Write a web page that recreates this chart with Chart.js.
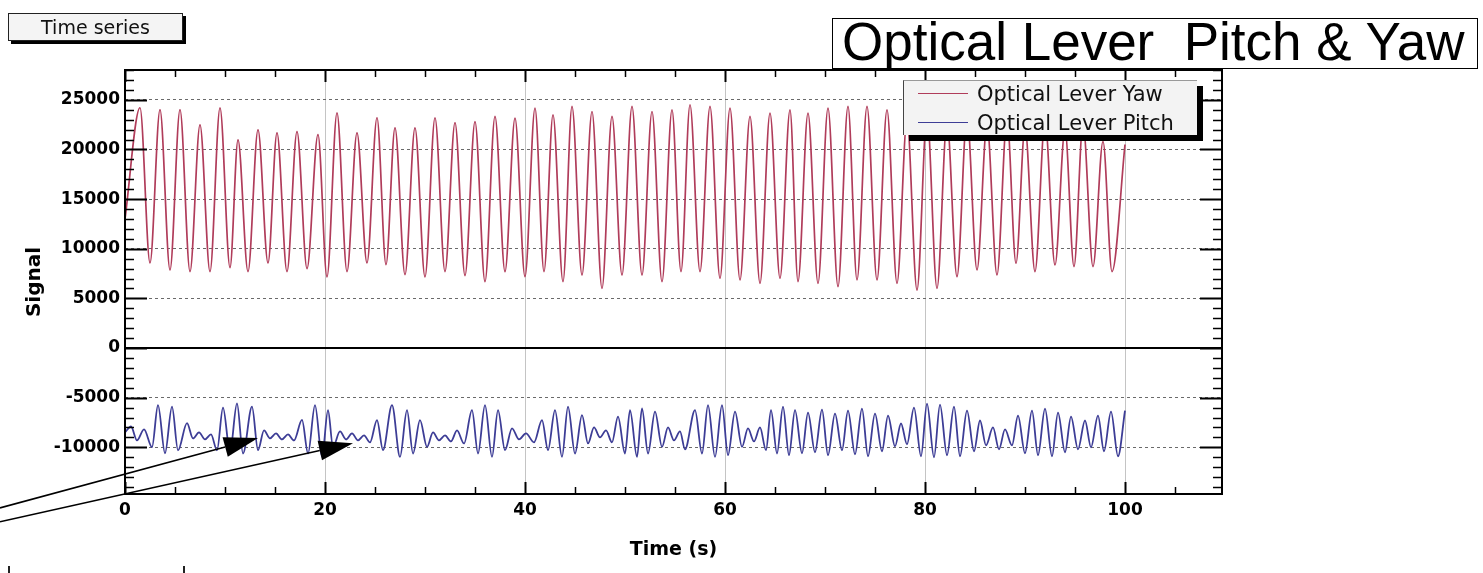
<!DOCTYPE html>
<html><head><meta charset="utf-8">
<script src="https://cdn.jsdelivr.net/npm/chart.js@4.4.1/dist/chart.umd.min.js"></script>
<style>
html,body{margin:0;padding:0;background:#fff;overflow:hidden;}
#wrap{position:relative;width:1483px;height:573px;overflow:hidden;background:#fff;}
#c{position:absolute;left:0;top:0;}
#btn{position:absolute;left:8px;top:13px;width:175px;height:28px;box-sizing:border-box;border:1px solid #222;background:#f4f4f4;box-shadow:3px 3px 0 #000;font:19px "DejaVu Sans",sans-serif;line-height:26px;text-align:center;color:#111;}
#btn2{position:absolute;left:8px;top:566px;width:177px;height:30px;box-sizing:border-box;border-left:2px solid #222;border-right:2px solid #222;font:19px "DejaVu Sans",sans-serif;line-height:30px;text-align:center;color:#111;}
#title{position:absolute;left:832px;top:18px;width:646px;height:51px;box-sizing:border-box;border:1px solid #000;background:#fff;}
#title span{position:absolute;left:9px;top:-4px;font:53px "Liberation Sans",Arial,sans-serif;line-height:53px;white-space:pre;color:#000;}
#legend{position:absolute;left:903px;top:80px;width:294px;height:55px;box-sizing:border-box;background:#f3f3f3;border-left:1px solid #444;border-top:1px solid #999;box-shadow:6px 6px 0 #000;}
.row{position:absolute;left:0;height:24px;line-height:24px;white-space:nowrap;font:21px "DejaVu Sans",sans-serif;color:#111;}
.row i{position:absolute;left:14px;top:11px;width:50px;height:0;}
.row b{position:absolute;left:73px;top:0;font-weight:normal;}
</style></head><body>
<div id="wrap">
<canvas id="c" width="1483" height="573"></canvas>
<div id="btn">Time series</div>
<div id="btn2">Time series</div>
<div id="title"><span>Optical Lever  Pitch &amp; Yaw</span></div>
<div id="legend"></div>
</div>
<script>
// ---- data (times in s, signal in counts) ----
const seriesNames = ['Optical Lever Yaw', 'Optical Lever Pitch'];
const seriesColors = ['#b03c5a', '#3d3d96'];

const yawT = [0.0,1.5,2.5,3.5,4.5,5.5,6.5,7.5,8.5,9.5,10.5,11.3,12.3,13.3,14.3,15.2,16.2,17.2,18.2,19.3,20.2,21.2,22.2,23.2,24.2,25.2,26.1,27.0,28.0,29.0,30.0,31.0,32.0,33.0,34.0,35.0,36.0,37.0,38.0,39.0,40.0,41.0,41.9,42.8,43.8,44.7,45.7,46.7,47.7,48.7,49.7,50.7,51.7,52.7,53.7,54.7,55.6,56.5,57.5,58.5,59.5,60.5,61.5,62.5,63.5,64.5,65.5,66.5,67.3,68.3,69.3,70.3,71.3,72.3,73.2,74.2,75.2,76.2,77.2,78.2,79.2,80.2,81.2,82.2,83.2,84.2,85.2,86.2,87.2,88.2,89.1,90.0,91.0,92.0,93.0,94.0,94.9,95.8,96.8,97.8,98.7,100.0];
const yawV = [13000,24200,8570,24000,7860,24000,7700,22480,7700,24190,8100,20970,7700,21980,8570,21670,7700,21800,8000,21500,7160,23690,7700,21670,8570,23190,8400,22180,7400,22180,7160,23190,7700,22700,7300,22800,6690,23320,7700,23150,7190,24160,7700,23490,6690,24330,7360,23820,6010,23320,7360,24330,7360,23820,6690,23990,7700,24500,7700,24330,7030,24160,6860,23320,6520,23650,7030,23990,6690,23650,6520,24160,6180,24330,6860,24330,6860,23990,6520,23000,5840,23500,6010,22800,7190,23300,7870,22500,7360,23100,8540,22200,7700,22900,8370,22000,8200,22600,8200,20800,7700,20500];

const pitchT = [0.0,0.6,1.2,1.9,2.7,3.3,4.0,4.7,5.3,6.2,6.8,7.4,8.0,8.6,9.2,9.8,10.5,11.2,11.8,12.7,13.3,13.9,14.5,15.1,15.7,16.3,16.9,17.7,18.3,19.0,19.7,20.3,20.8,21.5,22.1,22.7,23.3,23.9,24.5,25.2,25.8,26.7,27.5,28.2,28.8,29.5,30.2,30.8,31.4,32.0,32.6,33.2,33.9,34.7,35.3,36.0,36.7,37.3,38.0,38.7,39.4,40.1,40.9,41.7,42.3,43.0,43.7,44.3,45.0,45.7,46.3,46.9,47.5,48.1,48.7,49.3,50.0,50.5,51.2,51.7,52.3,53.0,53.7,54.3,54.9,55.5,56.0,57.0,57.7,58.3,59.0,59.7,60.3,61.0,61.7,62.3,62.9,63.5,64.1,64.6,65.2,65.8,66.4,67.0,67.7,68.3,69.0,69.7,70.3,71.0,71.7,72.3,73.0,73.7,74.3,75.0,75.7,76.3,77.0,77.6,78.2,78.9,79.6,80.2,80.9,81.5,82.2,82.9,83.5,84.2,84.9,85.5,86.1,86.8,87.4,88.0,88.7,89.3,90.0,90.7,91.3,92.0,92.7,93.3,94.0,94.6,95.3,96.0,96.6,97.3,97.9,98.6,99.3,100.0];
const pitchV = [-8500,-7900,-9300,-8200,-9980,-5750,-10600,-5900,-10300,-7560,-9100,-8500,-9200,-8700,-10300,-6000,-10450,-5580,-10620,-5900,-10280,-8300,-9100,-8600,-9200,-8700,-9300,-7240,-10620,-5750,-10960,-6250,-9950,-8400,-9200,-8600,-9300,-8800,-9500,-7260,-10280,-5750,-10960,-6250,-10620,-7260,-9950,-8500,-9300,-8800,-9400,-8300,-9610,-6250,-10620,-5750,-10960,-6250,-10280,-8100,-9200,-8600,-9500,-7260,-10280,-6250,-10960,-5910,-10620,-6750,-9610,-8000,-9000,-8300,-9500,-6900,-10620,-6250,-10960,-6080,-10620,-6400,-9950,-8000,-9300,-8400,-10200,-6250,-10620,-5750,-10960,-5750,-10790,-6400,-9950,-8100,-9400,-8000,-10280,-6250,-10620,-5910,-10790,-6250,-10600,-6500,-10500,-6200,-10800,-6600,-10300,-6300,-10700,-6100,-10900,-6600,-10400,-6800,-9900,-7600,-9700,-6000,-10900,-5600,-11000,-5700,-10800,-5900,-10900,-6300,-10400,-7300,-9800,-8000,-10200,-8200,-9800,-6800,-10600,-6300,-10800,-6100,-10900,-6500,-10500,-6900,-10200,-7300,-10000,-6800,-10400,-6400,-10900,-6300];

// axis ranges and tick labels
const xMin = 0, xMax = 109.7, xMinor = 5;
const yMin = -14700, yMax = 28000, yMinor = 1000;
const xTicks = [0, 20, 40, 60, 80, 100];
const yTicks = [-10000, -5000, 0, 5000, 10000, 15000, 20000, 25000];

// arrow annotations (data units): from -> to
const arrowFrom = [[-12.5, -16100], [-12.5, -17500]];
const arrowTo   = [[13.3, -9070], [22.8, -9580]];

// ---- legend ----
const lg = document.getElementById('legend');
seriesNames.forEach((n, i) => {
  const r = document.createElement('div');
  r.className = 'row';
  r.style.top = (1 + i * 29) + 'px';
  r.innerHTML = '<i style="border-top:1.5px solid ' + seriesColors[i] + '"></i><b>' + n + '</b>';
  lg.appendChild(r);
});

const toPts = (T, V) => T.map((t, i) => ({x: t, y: V[i]}));

const framePlugin = {
  id: 'frame',
  beforeDatasetsDraw(chart) {
    const {ctx, chartArea: a, scales: {y}} = chart;
    const y0 = y.getPixelForValue(0);
    ctx.save();
    ctx.strokeStyle = '#000'; ctx.lineWidth = 2;
    ctx.beginPath(); ctx.moveTo(a.left, y0); ctx.lineTo(a.right, y0); ctx.stroke();
    ctx.restore();
  },
  afterDraw(chart) {
    const {ctx, chartArea: a, scales: {x, y}} = chart;
    ctx.save();
    ctx.strokeStyle = '#000';
    ctx.lineWidth = 2;
    ctx.strokeRect(a.left, a.top, a.right - a.left, a.bottom - a.top);
    // inward y ticks
    for (let v = Math.ceil(yMin / yMinor) * yMinor; v <= yMax; v += yMinor) {
      const p = Math.round(y.getPixelForValue(v)) + 0.5;
      const major = yTicks.includes(v);
      const len = major ? 22 : 9;
      ctx.lineWidth = major ? 2 : 1.5;
      ctx.beginPath();
      ctx.moveTo(a.left, p); ctx.lineTo(a.left + len, p);
      ctx.moveTo(a.right, p); ctx.lineTo(a.right - len, p);
      ctx.stroke();
    }
    // inward x ticks
    for (let v = xMin; v <= xMax; v += xMinor) {
      const p = Math.round(x.getPixelForValue(v)) + 0.5;
      const major = xTicks.includes(v);
      const len = major ? 12 : 7;
      ctx.lineWidth = major ? 2 : 1.5;
      ctx.beginPath();
      ctx.moveTo(p, a.bottom); ctx.lineTo(p, a.bottom - len);
      ctx.moveTo(p, a.top); ctx.lineTo(p, a.top + len);
      ctx.stroke();
    }
    // arrows
    ctx.fillStyle = '#000';
    ctx.lineWidth = 1.5;
    arrowFrom.forEach((f, i) => {
      const x1 = x.getPixelForValue(f[0]), y1 = y.getPixelForValue(f[1]);
      const x2 = x.getPixelForValue(arrowTo[i][0]), y2 = y.getPixelForValue(arrowTo[i][1]);
      const ang = Math.atan2(y2 - y1, x2 - x1);
      const L = 34, W = 10;
      const bx = x2 - L * Math.cos(ang), by = y2 - L * Math.sin(ang);
      ctx.beginPath(); ctx.moveTo(x1, y1); ctx.lineTo(bx, by); ctx.stroke();
      ctx.beginPath();
      ctx.moveTo(x2, y2);
      ctx.lineTo(bx + W * Math.sin(ang), by - W * Math.cos(ang));
      ctx.lineTo(bx - W * Math.sin(ang), by + W * Math.cos(ang));
      ctx.closePath(); ctx.fill();
    });
    ctx.restore();
  }
};

const tickFont = {family: 'DejaVu Sans', size: 17, weight: 'bold'};

new Chart(document.getElementById('c'), {
  type: 'line',
  data: {
    datasets: [
      {label: seriesNames[0], data: toPts(yawT, yawV), borderColor: seriesColors[0], borderWidth: 1.7, pointRadius: 0, cubicInterpolationMode: 'monotone', fill: false},
      {label: seriesNames[1], data: toPts(pitchT, pitchV), borderColor: seriesColors[1], borderWidth: 1.8, pointRadius: 0, cubicInterpolationMode: 'monotone', fill: false}
    ]
  },
  options: {
    responsive: false,
    animation: false,
    events: [],
    layout: {padding: {left: 0, right: 261, top: 70, bottom: 0}},
    plugins: {legend: {display: false}, tooltip: {enabled: false}, title: {display: false}},
    scales: {
      x: {
        type: 'linear', min: xMin, max: xMax,
        afterBuildTicks: s => { s.ticks = xTicks.map(v => ({value: v})); },
        ticks: {autoSkip: false, maxRotation: 0, padding: 6, color: '#000', font: tickFont, callback: v => String(v)},
        grid: {color: '#c4c4c4', lineWidth: 1, drawTicks: false},
        border: {display: false},
        title: {display: true, text: 'Time (s)', color: '#000', font: {family: 'DejaVu Sans', size: 19, weight: 'bold'}, padding: {top: 0, bottom: 12}},
        afterFit: s => { s.height = 79; }
      },
      y: {
        type: 'linear', min: yMin, max: yMax,
        afterBuildTicks: s => { s.ticks = yTicks.map(v => ({value: v})); },
        ticks: {autoSkip: false, padding: 5, color: '#000', font: tickFont, callback: v => String(v)},
        grid: {color: '#6a6a6a', lineWidth: 1, drawTicks: false},
        border: {display: false, dash: [3, 3]},
        title: {display: true, text: 'Signal', color: '#000', font: {family: 'DejaVu Sans', size: 20, weight: 'bold'}, padding: {top: 23, bottom: 0}},
        afterFit: s => { s.width = 125; }
      }
    }
  },
  plugins: [framePlugin]
});
</script>
</body></html>
